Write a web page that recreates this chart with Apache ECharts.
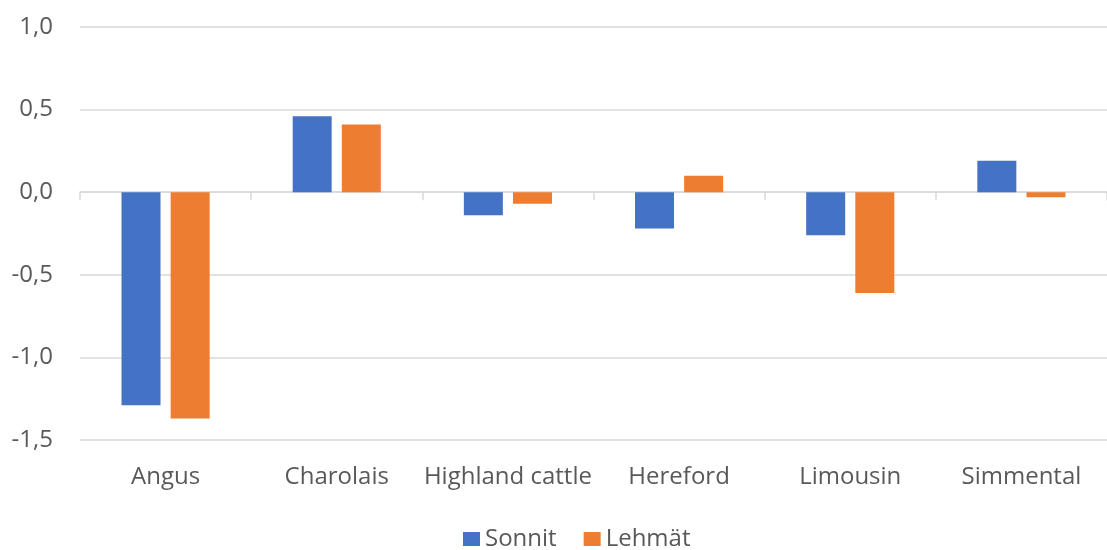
<!DOCTYPE html>
<html>
<head>
<meta charset="utf-8">
<style>
  html, body { margin: 0; padding: 0; background: #fff; }
  #chart { width: 1107px; height: 550px; }
</style>
<script src="https://cdn.jsdelivr.net/npm/echarts@6/dist/echarts.min.js"></script>
</head>
<body>
<div id="chart"></div>
<script>
// Breed differences, bulls vs cows
const categories = ['Angus', 'Charolais', 'Highland cattle', 'Hereford', 'Limousin', 'Simmental'];
const sonnit = [-1.29, 0.46, -0.14, -0.22, -0.26, 0.19];
const lehmat = [-1.37, 0.41, -0.07, 0.10, -0.61, -0.03];
const seriesNames = ['Sonnit', 'Lehmät'];

const FONT = '"Open Sans", "Noto Sans", sans-serif';
const FONT_SIZE = 24;
const TEXT = '#595959';
const GRID = '#d9d9d9';

const chart = echarts.init(document.getElementById('chart'), null, { renderer: 'canvas' });

chart.setOption({
  animation: false,
  textStyle: { fontFamily: FONT },
  grid: { left: 80, right: -11, top: 27, bottom: 110, containLabel: false },
  legend: {
    data: seriesNames,
    left: 463,
    top: 527,
    padding: 0,
    itemWidth: 17,
    itemHeight: 14,
    itemGap: 27,
    icon: 'rect',
    textStyle: { color: TEXT, fontSize: FONT_SIZE, fontFamily: FONT, lineHeight: 24 }
  },
  xAxis: [
    {
      // zero baseline with category boundary ticks
      type: 'category',
      data: categories,
      position: 'bottom',
      axisLine: { show: true, onZero: true, lineStyle: { color: GRID, width: 1.5 } },
      axisTick: { show: true, length: 8, lineStyle: { color: GRID, width: 1.5 } },
      axisLabel: { show: false }
    },
    {
      // category names along the bottom edge
      type: 'category',
      data: categories,
      position: 'bottom',
      axisLine: { show: false, onZero: false },
      axisTick: { show: false },
      axisLabel: { show: true, interval: 0, color: TEXT, fontSize: FONT_SIZE, fontFamily: FONT, margin: 25 }
    }
  ],
  yAxis: {
    type: 'value',
    min: -1.5,
    max: 1.0,
    interval: 0.5,
    axisLine: { show: false },
    axisTick: { show: false },
    splitLine: { show: true, lineStyle: { color: GRID, width: 1.5 } },
    axisLabel: {
      color: TEXT,
      fontSize: FONT_SIZE,
      fontFamily: FONT,
      margin: 27,
      formatter: v => v.toFixed(1).replace('.', ',')
    }
  },
  series: [
    {
      name: seriesNames[0],
      type: 'bar',
      xAxisIndex: 0,
      data: sonnit,
      barWidth: 39,
      barGap: '26%',
      itemStyle: { color: '#4472C4' }
    },
    {
      name: seriesNames[1],
      type: 'bar',
      xAxisIndex: 0,
      data: lehmat,
      barWidth: 39,
      barGap: '26%',
      itemStyle: { color: '#ED7D31' }
    }
  ]
});
</script>
</body>
</html>
